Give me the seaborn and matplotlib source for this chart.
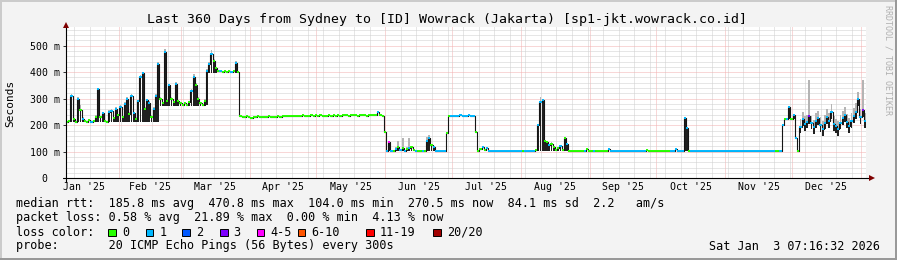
import numpy as np
import pandas as pd
import matplotlib
matplotlib.use("Agg")
import matplotlib.pyplot as plt
import matplotlib.dates as mdates
from matplotlib.patches import Rectangle
from matplotlib.transforms import blended_transform_factory
import seaborn as sns

# ---------------- data ----------------
START = "2025-01-08 07:16:32"
N_DAYS = 360

# daily median rtt (ms), one value per day, 30 per row
median_ms = [
    212, 214, 310, 222, 212, 300, 258, 225, 214, 212, 218, 212, 215, 232, 335, 230, 245, 216, 212, 250, 255, 228, 262, 238, 270, 232, 280, 300, 242, 310,
    245, 225, 290, 380, 395, 262, 295, 285, 232, 262, 310, 430, 300, 282, 476, 292, 350, 300, 288, 356, 292, 282, 276, 282, 276, 286, 330, 382, 352, 300,
    282, 276, 292, 405, 432, 470, 442, 415, 406, 404, 400, 403, 400, 404, 401, 403, 436, 402, 234, 232, 230, 233, 231, 229, 232, 230, 233, 231, 232, 230,
    231, 233, 232, 230, 232, 233, 231, 234, 233, 235, 234, 236, 235, 236, 235, 236, 237, 236, 235, 236, 237, 236, 237, 236, 237, 236, 235, 236, 237, 236,
    237, 236, 237, 236, 237, 238, 237, 236, 237, 238, 237, 236, 237, 238, 237, 236, 237, 238, 237, 240, 251, 238, 236, 176, 103, 138, 104, 103, 110, 119,
    108, 115, 103, 112, 115, 118, 106, 103, 104, 103, 104, 103, 140, 151, 125, 118, 103, 104, 103, 103, 104, 170, 235, 236, 235, 236, 236, 237, 236, 236,
    236, 237, 236, 235, 175, 103, 112, 118, 108, 115, 104, 103, 104, 103, 103, 104, 103, 103, 104, 103, 103, 104, 103, 103, 104, 103, 103, 104, 103, 104,
    103, 105, 201, 289, 295, 140, 138, 125, 130, 118, 108, 114, 120, 108, 151, 128, 104, 103, 104, 103, 103, 104, 103, 103, 112, 104, 103, 104, 103, 103,
    104, 103, 103, 104, 112, 103, 104, 103, 103, 104, 103, 103, 104, 103, 103, 104, 103, 103, 104, 103, 103, 108, 103, 104, 103, 103, 104, 103, 103, 104,
    103, 104, 103, 103, 112, 103, 104, 103, 226, 190, 104, 104, 103, 103, 104, 103, 103, 104, 103, 103, 104, 103, 103, 104, 103, 103, 104, 103, 103, 104,
    103, 104, 103, 103, 104, 103, 103, 104, 103, 103, 104, 103, 103, 104, 103, 104, 103, 103, 104, 104, 103, 104, 200, 222, 224, 268, 222, 238, 150, 104,
    195, 222, 205, 212, 236, 208, 192, 215, 226, 200, 186, 210, 230, 214, 250, 206, 196, 186, 210, 226, 238, 212, 196, 216, 236, 250, 300, 232, 256, 215,
]

# daily loss class (index into loss_labels), one char per day
loss_code = (
    "0010010100" "0100101001" "1010101101"
    "1011101101" "1100101001" "0000001100"
    "0001110001" "0000101000" "0000000000"
    "0000000000" "0000000000" "0000000000"
    "0000000000" "0000000000" "1000141010"
    "1010100100" "1011011111" "1001111111"
    "1111000101" "1111111111" "1111101111"
    "1011100100" "0010010000" "0001000100"
    "0000111111" "1111111111" "1000000000"
    "0011111111" "0111111111" "1111111111"
    "1111111111" "1111111110" "0110110110"
    "1111311111" "1111111111" "1111111131"
)

# smoke (spread of pings) for days where it is visible
smoke_day = [2, 3, 5, 6, 7, 13, 14, 15, 16, 19, 20, 21, 22, 23, 24, 25, 26, 27, 28, 29,
             30, 31, 32, 33, 34, 35, 36, 37, 38, 39, 40, 41,
             42, 43, 44, 45, 46, 47, 48, 49, 50, 51, 55, 56, 57, 58, 59, 60, 62,
             63, 64, 65, 66, 67, 76,
             145, 148, 149, 151, 153, 154, 155, 162, 163, 164, 165,
             212, 213, 214, 215, 216, 217, 218, 219, 221, 222, 224, 225,
             278, 279, 325, 327,
             330, 331, 332, 333, 334, 335, 336, 337, 338, 339, 340, 341, 342, 343, 344,
             345, 346, 347, 348, 349, 350, 351, 352, 353, 354, 355, 356, 357, 358, 359]
smoke_low = [212, 212, 212, 212, 212, 212, 212, 212, 212, 212, 212, 212, 212, 212, 212, 212, 212, 212, 212, 212,
             212, 212, 212, 212, 212, 212, 212, 212, 212, 212, 212, 212,
             272, 272, 272, 272, 272, 272, 272, 272, 272, 272, 272, 272, 272, 272, 272, 272, 272,
             276, 398, 398, 398, 398, 398,
             103, 103, 103, 103, 103, 103, 103, 103, 103, 103, 103,
             103, 103, 103, 103, 103, 103, 103, 103, 103, 103, 103, 103,
             103, 103, 222, 222,
             170, 198, 180, 188, 205, 185, 168, 190, 200, 175, 160, 185, 205, 190, 222,
             180, 172, 160, 185, 200, 212, 188, 170, 190, 210, 222, 272, 205, 230, 190]
smoke_high = [318, 226, 305, 278, 230, 238, 342, 236, 250, 256, 262, 232, 268, 242, 278, 236, 286, 308, 248, 318,
              250, 230, 296, 388, 402, 268, 300, 290, 238, 268, 316, 440,
              306, 288, 486, 298, 356, 306, 292, 362, 296, 286, 290, 336, 392, 358, 306, 286, 298,
              410, 440, 482, 450, 420, 442,
              142, 118, 140, 152, 118, 150, 122, 155, 165, 130, 122,
              205, 308, 300, 145, 142, 130, 135, 122, 118, 124, 156, 132,
              232, 195, 272, 242,
              225, 250, 235, 240, 370, 235, 220, 245, 255, 230, 215, 240, 260, 245, 280,
              235, 225, 215, 240, 255, 268, 242, 226, 246, 266, 282, 325, 262, 370, 245]

loss_labels = ["0", "1", "2", "3", "4-5", "6-10", "11-19", "20/20"]
loss_colors = ["#26ff00", "#00b8ff", "#0059ff", "#7e00ff", "#ff00ff", "#ff5500", "#ff0000", "#a10000"]

y_ticks = [0, 100, 200, 300, 400, 500]
y_tick_labels = ["0  ", "100 m", "200 m", "300 m", "400 m", "500 m"]

title = "Last 360 Days from Sydney to [ID] Wowrack (Jakarta) [sp1-jkt.wowrack.co.id]"
stat_lines = [
    "median rtt:  185.8 ms avg  470.8 ms max  104.0 ms min  270.5 ms now  84.1 ms sd  2.2   am/s",
    "packet loss: 0.58 % avg  21.89 % max  0.00 % min  4.13 % now",
    "loss color:",
    "probe:       20 ICMP Echo Pings (56 Bytes) every 300s",
]
stamp = "Sat Jan  3 07:16:32 2026"

assert len(median_ms) == N_DAYS and len(loss_code) == N_DAYS
assert len(smoke_day) == len(smoke_low) == len(smoke_high)

# ---------------- style ----------------
sns.set_theme(style="white")
MONO = ["DejaVu Sans Mono"]
plt.rcParams["font.family"] = MONO
plt.rcParams["text.color"] = "black"

W, H = 897, 260
BG = "#f3f3f3"
fig = plt.figure(figsize=(W / 100, H / 100), dpi=100, facecolor=BG)

# 3-D frame of rrdtool
fig.patches.append(Rectangle((0, 1 - 2 / H), 1, 2 / H, transform=fig.transFigure, color="#cbcbcb", lw=0))
fig.patches.append(Rectangle((0, 0), 2 / W, 1, transform=fig.transFigure, color="#cbcbcb", lw=0))
fig.patches.append(Rectangle((0, 0), 1, 2 / H, transform=fig.transFigure, color="#999999", lw=0))
fig.patches.append(Rectangle((1 - 2 / W, 0), 2 / W, 1, transform=fig.transFigure, color="#999999", lw=0))

AX_L, AX_R, AX_B, AX_T = 66, 866, 178.3, 27.0
ax = fig.add_axes([AX_L / W, 1 - AX_B / H, (AX_R - AX_L) / W, (AX_B - AX_T) / H])
ax.set_facecolor("white")
for s in ax.spines.values():
    s.set_visible(False)

edges = pd.date_range(START, periods=N_DAYS + 1, freq="D")
x0 = mdates.date2num(edges[:-1])
x_end = mdates.date2num(edges[-1])

# smoke
BAR_W = 0.8
sx = [x0[d] + (1 - BAR_W) / 2 for d in smoke_day]
med_at = [median_ms[d] for d in smoke_day]
gray_bottom = [min(m, lo) for m, lo in zip(med_at, smoke_low)]
gray_h = [max(hi - b, 0) for hi, b in zip(smoke_high, gray_bottom)]
ax.bar(sx, gray_h, bottom=gray_bottom, width=BAR_W, align="edge", color="#b4b4b4", linewidth=0, zorder=2)
dark_h = [max(m - lo, 0) for m, lo in zip(med_at, smoke_low)]
ax.bar(sx, dark_h, bottom=smoke_low, width=BAR_W, align="edge", color="#202020", linewidth=0, zorder=3)

# connecting median trace (dark) via seaborn
trace = pd.DataFrame({"t": edges, "ms": median_ms + [median_ms[-1]]})
sns.lineplot(data=trace, x="t", y="ms", ax=ax, color="#151515", linewidth=0.8,
             drawstyle="steps-post", estimator=None, zorder=4)

# loss-coloured median
seg_colors = [loss_colors[int(c)] for c in loss_code]
ax.hlines(median_ms, x0, x0 + 1.0, colors=seg_colors, linewidth=1.4, zorder=5)

ax.set_xlim(x0[0], x_end)
ax.set_ylim(0, 570)
ax.set_xlabel("")
ax.set_ylabel("")

# grid (dotted, like rrdtool)
ax.set_axisbelow(True)
ax.xaxis.set_major_locator(mdates.MonthLocator())
ax.xaxis.set_minor_locator(mdates.WeekdayLocator(byweekday=mdates.SU))
ax.xaxis.set_major_formatter(matplotlib.ticker.NullFormatter())
ax.set_yticks(y_ticks)
ax.set_yticklabels(y_tick_labels)
ax.yaxis.set_minor_locator(matplotlib.ticker.MultipleLocator(20))
ax.grid(True, which="minor", color="#cfcfcf", linestyle=(0, (1, 1)), linewidth=0.72)
ax.grid(True, which="major", color="#f3b0b0", linestyle=(0, (1, 1)), linewidth=0.72)
ax.tick_params(axis="x", which="both", length=0, bottom=False)
ax.tick_params(axis="y", which="major", left=True, length=2.2, width=0.72, color="#333333",
               pad=2.2, labelsize=7.1, labelcolor="black")
ax.tick_params(axis="y", which="minor", left=False, length=0)
for lab in ax.get_yticklabels():
    lab.set_fontfamily(MONO)

# month labels centred in each month
months = pd.date_range("2025-01-01", "2026-01-01", freq="MS")
trans = blended_transform_factory(ax.transData, ax.transAxes)
for a, b in zip(months[:-1], months[1:]):
    mid = mdates.date2num(a + (b - a) / 2)
    if x0[0] <= mid <= x_end:
        ax.text(mid, -(190.0 - AX_B) / (AX_B - AX_T), a.strftime("%b '%y"), transform=trans,
                ha="center", va="baseline", fontsize=7.1, family=MONO, color="black")

# axes lines with arrows
def fx(px):
    return (px - AX_L) / (AX_R - AX_L)

def fy(py):
    return (AX_B - py) / (AX_B - AX_T)

ax.plot([fx(63), fx(870)], [0, 0], transform=ax.transAxes, clip_on=False, color="black", lw=0.8, zorder=6)
ax.plot([0, 0], [fy(181.5), fy(25)], transform=ax.transAxes, clip_on=False, color="black", lw=0.8, zorder=6)
ax.plot([fx(871.5)], [0], transform=ax.transAxes, clip_on=False, marker=">", markersize=4.5,
        color="#7f0000", markeredgewidth=0, zorder=7)
ax.plot([0], [fy(24.5)], transform=ax.transAxes, clip_on=False, marker="^", markersize=4.5,
        color="#7f0000", markeredgewidth=0, zorder=7)

# texts
def ftext(xp, yp, s, **kw):
    fig.text(xp / W, 1 - yp / H, s, family=MONO, color=kw.pop("color", "black"), **kw)

ftext(447, 23.5, title, ha="center", va="baseline", fontsize=9.5)
ftext(10.5, 103.5, "Seconds", ha="center", va="center", rotation=90, fontsize=8)
ftext(887.5, 5, "RRDTOOL / TOBI OETIKER", ha="center", va="top", rotation=270, fontsize=6, color="#b0b0b0")

baselines = [207.5, 221.5, 235.5, 249.5]
for line, yb in zip(stat_lines, baselines):
    ftext(16, yb, line, ha="left", va="baseline", fontsize=8.5)
ftext(880, baselines[3], stamp, ha="right", va="baseline", fontsize=8.5)

box_x = [108.3, 145.7, 182.3, 220.0, 256.7, 297.7, 366.0, 433.3]
for bx, lab, col in zip(box_x, loss_labels, loss_colors):
    fig.patches.append(Rectangle((bx / W, 1 - 236 / H), 7.5 / W, 7.5 / H, transform=fig.transFigure,
                                 facecolor=col, edgecolor="black", linewidth=0.7))
    ftext(bx + 13.5, baselines[2], lab, ha="left", va="baseline", fontsize=8.5)

fig.savefig("out.png", dpi=100, facecolor=BG)
